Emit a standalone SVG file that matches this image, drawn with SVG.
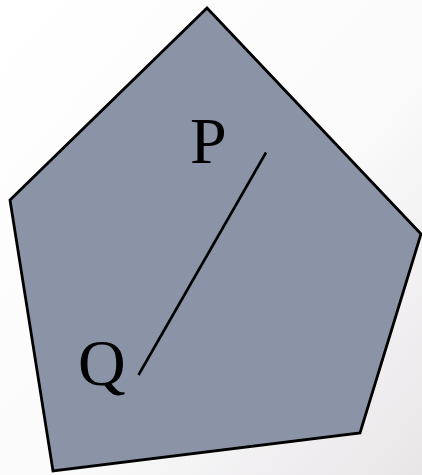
<svg xmlns="http://www.w3.org/2000/svg" width="422" height="475" viewBox="0 0 422 475">
<defs>
<linearGradient id="bg" x1="0" y1="0" x2="1" y2="1">
<stop offset="0" stop-color="#ffffff"/>
<stop offset="0.55" stop-color="#fbfbfc"/>
<stop offset="1" stop-color="#e9e6e8"/>
</linearGradient>
<style>
.lbl{font-family:"Liberation Serif","Times New Roman",serif;font-size:66px;fill:#000}
.edge{stroke:#000;stroke-width:2.6;fill:none}
</style>
</defs>
<rect width="422" height="475" fill="url(#bg)"/>
<g id="pentagon">
<polygon points="207,8 421,234 360,433 53,471 10,200" fill="#8b94a7" stroke="#000" stroke-width="2.8" stroke-linejoin="miter"/>
</g>
<g id="connectors">
<line class="edge" x1="266" y1="152.5" x2="138.5" y2="375"/>
</g>
<g id="P"><text class="lbl" x="190" y="163">P</text></g>
<g id="Q"><text class="lbl" x="78" y="385">Q</text></g>
</svg>
